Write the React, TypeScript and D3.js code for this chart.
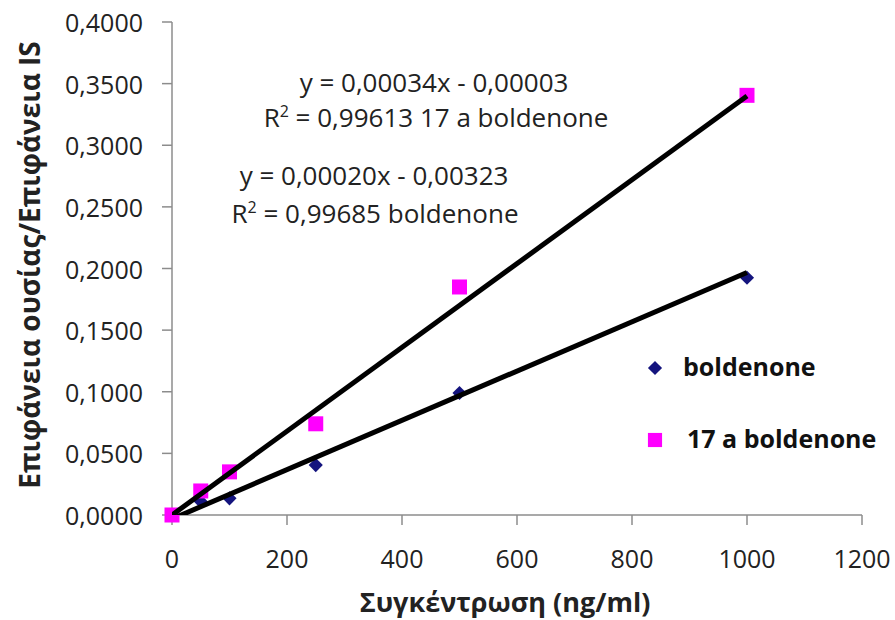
import React from "react";
import * as d3 from "d3";

// concentrations (ng/ml)
const concentrations = [0, 50, 100, 250, 500, 1000];
// area ratio substance / IS
const boldenone = [0.0, 0.011, 0.0135, 0.0405, 0.099, 0.1925];
const alphaBoldenone = [0.0, 0.0195, 0.035, 0.074, 0.185, 0.3405];

// trendline coefficients [slope, intercept]
const fitBoldenone = [0.0002, -0.00323];
const fitAlpha = [0.00034, -0.00003];

const xTicks = [0, 200, 400, 600, 800, 1000, 1200];
const yTicks = [0, 0.05, 0.1, 0.15, 0.2, 0.25, 0.3, 0.35, 0.4];

const W = 895;
const H = 620;
const left = 172;
const right = 862;
const top = 22;
const bottom = 515;

const font = "'Open Sans', 'Noto Sans', sans-serif";

export default function App() {
  const x = d3.scaleLinear().domain([0, 1200]).range([left, right]);
  const y = d3.scaleLinear().domain([0, 0.4]).range([bottom, top]);

  const fmt = (v: number) => v.toFixed(4).replace(".", ",");

  const trend = (fit: number[]) =>
    d3
      .line<number>()
      .x((d) => x(d))
      .y((d) => y(fit[0] * d + fit[1]))([0, 1000]) || "";

  // diamond = square turned 45 degrees
  const diamond = d3.symbol(d3.symbolSquare, 100)() || "";
  const square = d3.symbol(d3.symbolSquare, 225)() || "";

  return (
    <svg width={W} height={H} style={{ position: "absolute", left: 0, top: 0 }}>
      <rect width={W} height={H} fill="#fff" />
      <defs>
        <clipPath id="plot">
          <rect x={left} y={top} width={right - left} height={bottom - top} />
        </clipPath>
      </defs>

      {/* axes */}
      <g stroke="#8c8c8c" strokeWidth={1.5} fill="none">
        <line x1={left} x2={left} y1={top} y2={bottom} />
        <line x1={left} x2={right} y1={bottom} y2={bottom} />
        {yTicks.map((t) => (
          <line key={t} x1={left - 10} x2={left} y1={y(t)} y2={y(t)} />
        ))}
        {xTicks.map((t) => (
          <line key={t} x1={x(t)} x2={x(t)} y1={bottom} y2={bottom + 10} />
        ))}
      </g>

      <g fontFamily={font} fontSize={25} fill="#222">
        {yTicks.map((t) => (
          <text key={t} x={143} y={y(t)} textAnchor="end" dominantBaseline="central">
            {fmt(t)}
          </text>
        ))}
        {xTicks.map((t) => (
          <text key={t} x={x(t)} y={568} textAnchor="middle">
            {t}
          </text>
        ))}
      </g>

      {/* markers */}
      {concentrations.map((c, i) => (
        <path
          key={"b" + i}
          d={diamond}
          transform={`translate(${x(c)},${y(boldenone[i])}) rotate(45)`}
          fill="#14147e"
        />
      ))}
      {concentrations.map((c, i) => (
        <path
          key={"a" + i}
          d={square}
          transform={`translate(${x(c)},${y(alphaBoldenone[i])})`}
          fill="#ff00ff"
        />
      ))}

      {/* trendlines */}
      <g clipPath="url(#plot)" fill="none" stroke="#000" strokeWidth={5}>
        <path d={trend(fitAlpha)} />
        <path d={trend(fitBoldenone)} />
      </g>

      {/* equations */}
      <g fontFamily={font} fontSize={26} fill="#222" textAnchor="middle">
        <text x={434} y={92}>y = 0,00034x - 0,00003</text>
        <text x={436} y={127}>
          R<tspan dy={-10} fontSize={16}>2</tspan>
          <tspan dy={10}> = 0,99613 17 a boldenone</tspan>
        </text>
        <text x={374} y={185}>y = 0,00020x - 0,00323</text>
        <text x={375} y={223}>
          R<tspan dy={-10} fontSize={16}>2</tspan>
          <tspan dy={10}> = 0,99685 boldenone</tspan>
        </text>
      </g>

      {/* legend */}
      <path d={diamond} transform="translate(655,368) rotate(45)" fill="#14147e" />
      <path d={d3.symbol(d3.symbolSquare, 200)() || ""} transform="translate(655,440)" fill="#ff00ff" />
      <g fontFamily={font} fontSize={25} fontWeight="bold" fill="#111">
        <text x={683} y={376}>boldenone</text>
        <text x={687} y={448}>17 a boldenone</text>
      </g>

      {/* axis titles */}
      <g fontFamily={font} fontSize={27} fontWeight="bold" fill="#222">
        <text x={505} y={612} textAnchor="middle">
          Συγκέντρωση (ng/ml)
        </text>
        <text transform="translate(40,265) rotate(-90)" textAnchor="middle" fontSize={28}>
          Επιφάνεια ουσίας/Επιφάνεια IS
        </text>
      </g>
    </svg>
  );
}
